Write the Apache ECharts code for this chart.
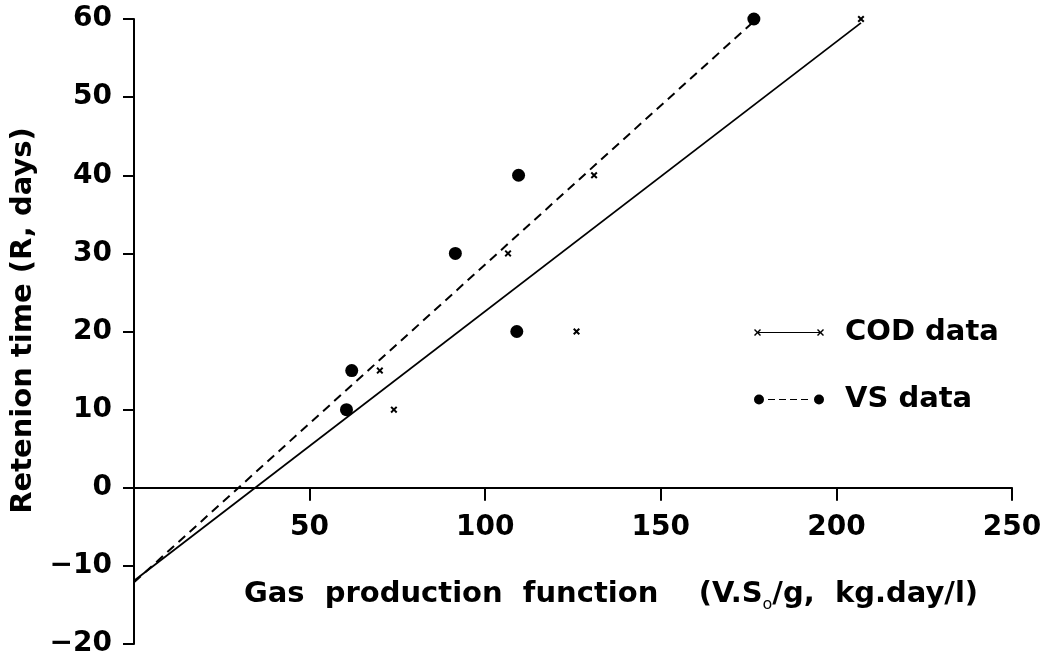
<!DOCTYPE html>
<html>
<head>
<meta charset="utf-8">
<script src="https://cdn.jsdelivr.net/npm/echarts@6/dist/echarts.min.js"></script>
<style>
  html, body { margin: 0; padding: 0; background: #fff; }
  #chart { width: 1049px; height: 659px; }
</style>
</head>
<body>
<div id="chart"></div>
<script>
// Retention time (days) for each run
const retention = [10, 15, 20, 30, 40, 60];
// Gas production function values
const codX = [74, 70, 126, 106.5, 131, 207];
const vsX = [60.5, 62, 109, 91.5, 109.5, 176.5];
// Fitted regression lines (end points)
const codFitX = [0, 207];
const codFitY = [-11.9, 59.5];
const vsFitX = [0, 176.5];
const vsFitY = [-12.1, 59.7];
// Tick labels
const xTicks = [50, 100, 150, 200, 250];
const yTicks = [-20, -10, 0, 10, 20, 30, 40, 50, 60];

const FONT = 'DejaVu Sans';
const pair = (xs, ys) => xs.map((x, i) => [x, ys[i]]);

const GRID_TOP = 19, GRID_BOTTOM = 15, H = 659;
const Y_MIN = -20, Y_MAX = 60;
// the x axis is drawn at R = 0, shifted up from the grid bottom
const plotH = H - GRID_TOP - GRID_BOTTOM;
const xAxisOffset = -plotH * (0 - Y_MIN) / (Y_MAX - Y_MIN);

const xMarker = 'path://M0,2L2,0L5,3L8,0L10,2L7,5L10,8L8,10L5,7L2,10L0,8L3,5Z';
const codIcon = 'path://M0,1L1,0L3.5,2.5L6,0L7,1L4.5,3.5L7,6L6,7L3.5,4.5L1,7L0,6L2.5,3.5Z' +
  'M63,1L64,0L66.5,2.5L69,0L70,1L67.5,3.5L70,6L69,7L66.5,4.5L64,7L63,6L65.5,3.5Z' +
  'M3.5,2.9L66.5,2.9L66.5,4.1L3.5,4.1Z';
const vsIcon = 'path://M0,5A5,5 0 1,0 10,5A5,5 0 1,0 0,5Z' +
  'M60,5A5,5 0 1,0 70,5A5,5 0 1,0 60,5Z' +
  'M14,4.4L21,4.4L21,5.6L14,5.6Z' +
  'M25,4.4L32,4.4L32,5.6L25,5.6Z' +
  'M36,4.4L43,4.4L43,5.6L36,5.6Z' +
  'M47,4.4L54,4.4L54,5.6L47,5.6Z';

const chart = echarts.init(document.getElementById('chart'), null, { renderer: 'canvas' });
chart.setOption({
  animation: false,
  backgroundColor: '#fff',
  textStyle: { fontFamily: FONT, color: '#000' },
  grid: { left: 134, right: 37, top: GRID_TOP, bottom: GRID_BOTTOM, containLabel: false, outerBoundsMode: 'none' },
  legend: [
    {
      data: [{ name: 'COD data', icon: codIcon }],
      left: 749, top: 313,
      itemWidth: 70, itemHeight: 7,
      itemStyle: { color: '#000', borderWidth: 0, opacity: 1 },
      textStyle: { fontFamily: FONT, fontWeight: 'bold', fontSize: 29, color: '#000', padding: [0, 0, 0, 16] },
      selectedMode: false
    },
    {
      data: [{ name: 'VS data', icon: vsIcon }],
      left: 749, top: 380,
      itemWidth: 70, itemHeight: 10,
      itemStyle: { color: '#000', borderWidth: 0, opacity: 1 },
      textStyle: { fontFamily: FONT, fontWeight: 'bold', fontSize: 29, color: '#000', padding: [0, 0, 0, 16] },
      selectedMode: false
    }
  ],
  xAxis: {
    type: 'value',
    min: 0, max: 250, interval: 50,
    position: 'bottom',
    offset: xAxisOffset,
    axisLine: { onZero: false, lineStyle: { color: '#000', width: 2 } },
    axisTick: { show: true, inside: false, length: 13, lineStyle: { color: '#000', width: 2 } },
    axisLabel: {
      show: true,
      showMinLabel: false,
      margin: 26,
      fontFamily: FONT, fontWeight: 'bold', fontSize: 28, color: '#000',
      formatter: v => (xTicks.indexOf(v) >= 0 ? String(v) : '')
    },
    splitLine: { show: false },
    name: 'Gas  production  function    (V.S{sub|o}/g,  kg.day/l)',
    nameLocation: 'middle',
    nameGap: 89,
    nameTextStyle: {
      fontFamily: FONT, fontWeight: 'bold', fontSize: 29, color: '#000', lineHeight: 34,
      padding: [0, 0, 0, 76],
      rich: {
        sub: { fontFamily: FONT, fontWeight: 'normal', fontSize: 16, color: '#000', lineHeight: 36, verticalAlign: 'bottom' }
      }
    }
  },
  yAxis: {
    type: 'value',
    min: Y_MIN, max: Y_MAX, interval: 10,
    axisLine: { show: true, onZero: false, lineStyle: { color: '#000', width: 2 } },
    axisTick: { show: true, inside: false, length: 11, lineStyle: { color: '#000', width: 2 } },
    axisLabel: {
      margin: 22,
      fontFamily: FONT, fontWeight: 'bold', fontSize: 28, color: '#000',
      formatter: v => (yTicks.indexOf(v) >= 0 ? (v < 0 ? '\u2212' + Math.abs(v) : String(v)) : '')
    },
    splitLine: { show: false },
    name: 'Retenion time (R, days)',
    nameLocation: 'middle',
    nameGap: 96,
    nameTextStyle: { fontFamily: FONT, fontWeight: 'bold', fontSize: 29, color: '#000', padding: [0, 0, 0, 22] }
  },
  series: [
    {
      name: 'COD data', type: 'line',
      data: pair(codFitX, codFitY),
      showSymbol: false, symbol: 'none',
      lineStyle: { color: '#000', width: 1.8, type: 'solid' },
      itemStyle: { color: '#000' },
      z: 2
    },
    {
      name: 'VS data', type: 'line',
      data: pair(vsFitX, vsFitY),
      showSymbol: false, symbol: 'none',
      lineStyle: { color: '#000', width: 2, type: [9, 6] },
      itemStyle: { color: '#000' },
      z: 2
    },
    {
      name: 'COD data', type: 'scatter',
      data: pair(codX, retention),
      symbol: xMarker, symbolSize: 7,
      itemStyle: { color: '#000', opacity: 1 },
      z: 3
    },
    {
      name: 'VS data', type: 'scatter',
      data: pair(vsX, retention),
      symbol: 'circle', symbolSize: 13,
      itemStyle: { color: '#000', opacity: 1 },
      z: 3
    }
  ]
});
</script>
</body>
</html>
